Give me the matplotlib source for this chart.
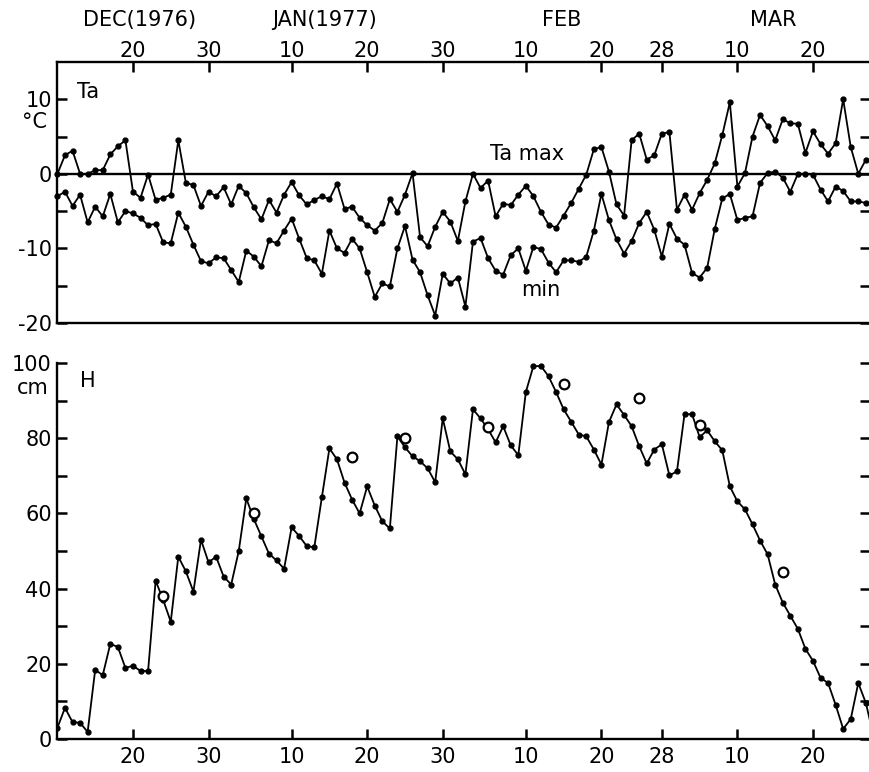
import matplotlib.pyplot as plt
import numpy as np

plt.rcParams['font.family'] = 'DejaVu Sans'
plt.rcParams['axes.unicode_minus'] = False

# day numbers: Dec d = d, Jan d = 31 + d, Feb d = 62 + d, Mar d = 90 + d
first_day = 10

ta_max = [0, 2.5, 3.1, 0, 0, 0.5, 0.5, 2.6, 3.7, 4.5,
          -2.4, -3.2, -0.1, -3.5, -3.2, -2.8, 4.5, -1.2, -1.5, -4.3,
          -2.4, -3.0, -1.8, -4.1, -1.6, -2.6, -4.5, -6.1, -3.5, -5.2,
          -2.8, -1.1, -2.9, -4.1, -3.5, -3.0, -3.4, -1.3, -4.7, -4.4,
          -5.9, -6.9, -7.6, -6.6, -3.4, -5.1, -2.8, 0.1, -8.5, -9.7,
          -7.1, -5.1, -6.4, -9.0, -3.7, 0.0, -1.9, -0.9, -5.7, -4.0,
          -4.2, -2.8, -1.6, -3.0, -5.1, -6.8, -7.2, -5.6, -3.9, -2.0,
          -0.1, 3.3, 3.6, 0.3, -4.1, -5.6, 4.5, 5.4, 1.9, 2.5,
          5.4, 5.6, -4.8, -2.8, -4.8, -2.6, -0.8, 1.4, 5.2, 9.6,
          -1.7, 0.1, 5.0, 7.9, 6.4, 4.5, 7.3, 6.8, 6.7, 2.8,
          5.7, 4.0, 2.7, 4.1, 10.0, 3.6, 0.0, 1.9]

ta_min = [-3.0, -2.4, -4.3, -2.8, -6.5, -4.4, -5.7, -2.7, -6.5, -5.0,
          -5.3, -5.9, -6.9, -6.7, -9.2, -9.3, -5.2, -7.1, -9.5, -11.7,
          -12.0, -11.2, -11.3, -12.9, -14.5, -10.3, -11.1, -12.4, -8.9, -9.3,
          -7.6, -6.0, -8.7, -11.3, -11.6, -13.4, -7.6, -10.0, -10.6, -8.7,
          -10.0, -13.2, -16.5, -14.7, -15.1, -10.0, -7.0, -11.5, -13.2, -16.3,
          -19.0, -13.4, -14.7, -13.9, -17.8, -9.1, -8.6, -11.3, -13.0, -13.5,
          -10.9, -10.0, -13.0, -9.8, -10.1, -11.9, -13.2, -11.6, -11.6, -11.8,
          -11.1, -7.6, -2.7, -6.2, -8.8, -10.7, -9.0, -6.6, -5.1, -7.5,
          -11.1, -6.7, -8.7, -9.5, -13.3, -13.9, -12.6, -7.4, -3.3, -2.7,
          -6.2, -5.9, -5.7, -1.2, 0.1, 0.3, -0.5, -2.4, 0.0, 0.0,
          -0.1, -2.1, -3.7, -1.7, -2.3, -3.7, -3.7, -3.9]

snow_h = [3, 8.3, 4.5, 4.3, 1.9, 18.4, 17, 25.3, 24.5, 18.9,
          19.5, 18.1, 18.1, 42.1, 37, 31.2, 48.5, 44.6, 39.2, 53,
          47, 48.5, 43.2, 41.1, 50, 64, 58.5, 53.9, 49.3, 47.5,
          45.3, 56.3, 54, 51.3, 51, 64.3, 77.3, 74.4, 68.2, 63.7,
          60, 67.2, 62.1, 57.9, 56, 80.5, 77.6, 75.2, 73.9, 72,
          68.3, 85.3, 76.5, 74.4, 70.4, 87.7, 85.3, 82.4, 78.9, 83.2,
          78.1, 75.5, 92.3, 99.2, 99.2, 96.5, 92.3, 87.7, 84.4, 81,
          80.5, 77, 73, 84.3, 89, 86.2, 83.2, 77.9, 73.3, 77,
          78.4, 70.1, 71.2, 86.4, 86.4, 80.3, 82.1, 79.2, 76.8, 67.2,
          63.2, 61.1, 57.1, 52.8, 49.1, 41.1, 36.3, 32.8, 29.3, 24,
          20.8, 16.3, 14.9, 9.1, 2.7, 5.3, 14.9, 9.6, 1]

# measured snow depth (open circles)
obs_days = [24, 36, 49, 56, 67, 77, 87, 95, 106]
obs_h = [38, 60, 75, 80, 83, 94.4, 90.7, 83.5, 44.5]

tick_days = [20, 30, 41, 51, 61, 72, 82, 90, 100, 110]
tick_labels = ['20', '30', '10', '20', '30', '10', '20', '28', '10', '20']
months = ['DEC(1976)', 'JAN(1977)', 'FEB', 'MAR']
month_pos = [20.9, 45.4, 76.8, 104.8]

days_t = np.arange(first_day, first_day + len(ta_max))
days_h = np.arange(first_day, first_day + len(snow_h))

fig = plt.figure(figsize=(8.7, 7.72), dpi=100)
ax1 = fig.add_axes([0.066, 0.5816, 0.934, 0.3381])
ax2 = fig.add_axes([0.066, 0.0427, 0.934, 0.4870])

fs = 15
lw_sp = 1.7

for ax in (ax1, ax2):
    ax.set_xlim(10, 117.55)
    ax.spines['right'].set_visible(False)
    for s in ax.spines.values():
        s.set_linewidth(lw_sp)
    ax.tick_params(which='both', direction='in', width=1.8, length=7,
                   labelsize=fs, right=True)
    ax.set_xticks(tick_days)

# top panel: air temperature
ax1.plot(days_t, ta_max, '-o', color='black', lw=1.3, ms=3.5, clip_on=False)
ax1.plot(days_t, ta_min, '-o', color='black', lw=1.3, ms=3.5, clip_on=False)
ax1.axhline(0, color='black', lw=1.7)
ax1.set_ylim(-20, 15)
ax1.set_yticks([-20, -10, 0, 10])
ax1.set_yticklabels(['-20', '-10', '0', '10'])
ax1.set_yticks([-15, -5, 5], minor=True)
ax1.tick_params(axis='y', pad=4)
ax1.xaxis.tick_top()
ax1.set_xticklabels(tick_labels)
ax1.tick_params(axis='x', pad=0.5, bottom=False)
for m, p in zip(months, month_pos):
    ax1.text(p, 1.161, m, transform=ax1.get_xaxis_transform(),
             ha='center', va='center', fontsize=fs)
ax1.text(0.038, 0.885, 'Ta', transform=ax1.transAxes, fontsize=fs,
         ha='center', va='center')
ax1.text(-0.028, 0.77, '°C', transform=ax1.transAxes, fontsize=fs,
         ha='center', va='center')
ax1.text(72.2, 2.7, 'Ta max', fontsize=fs, ha='center', va='center')
ax1.text(74.0, -15.6, 'min', fontsize=fs, ha='center', va='center')

# bottom panel: snow depth
ax2.plot(days_h, snow_h, '-o', color='black', lw=1.3, ms=3.5)
ax2.plot(obs_days, obs_h, 'o', mfc='white', mec='black', mew=1.6, ms=7)
ax2.spines['top'].set_visible(False)
ax2.set_ylim(0, 100)
ax2.set_yticks([0, 20, 40, 60, 80, 100])
ax2.set_yticks([10, 30, 50, 70, 90], minor=True)
ax2.tick_params(axis='y', pad=4)
ax2.set_xticklabels(tick_labels)
ax2.tick_params(axis='x', pad=6, top=False)
ax2.text(0.037, 0.952, 'H', transform=ax2.transAxes, fontsize=fs,
         ha='center', va='center')
ax2.text(-0.030, 0.935, 'cm', transform=ax2.transAxes, fontsize=fs,
         ha='center', va='center')

fig.savefig('out.png', dpi=100)
